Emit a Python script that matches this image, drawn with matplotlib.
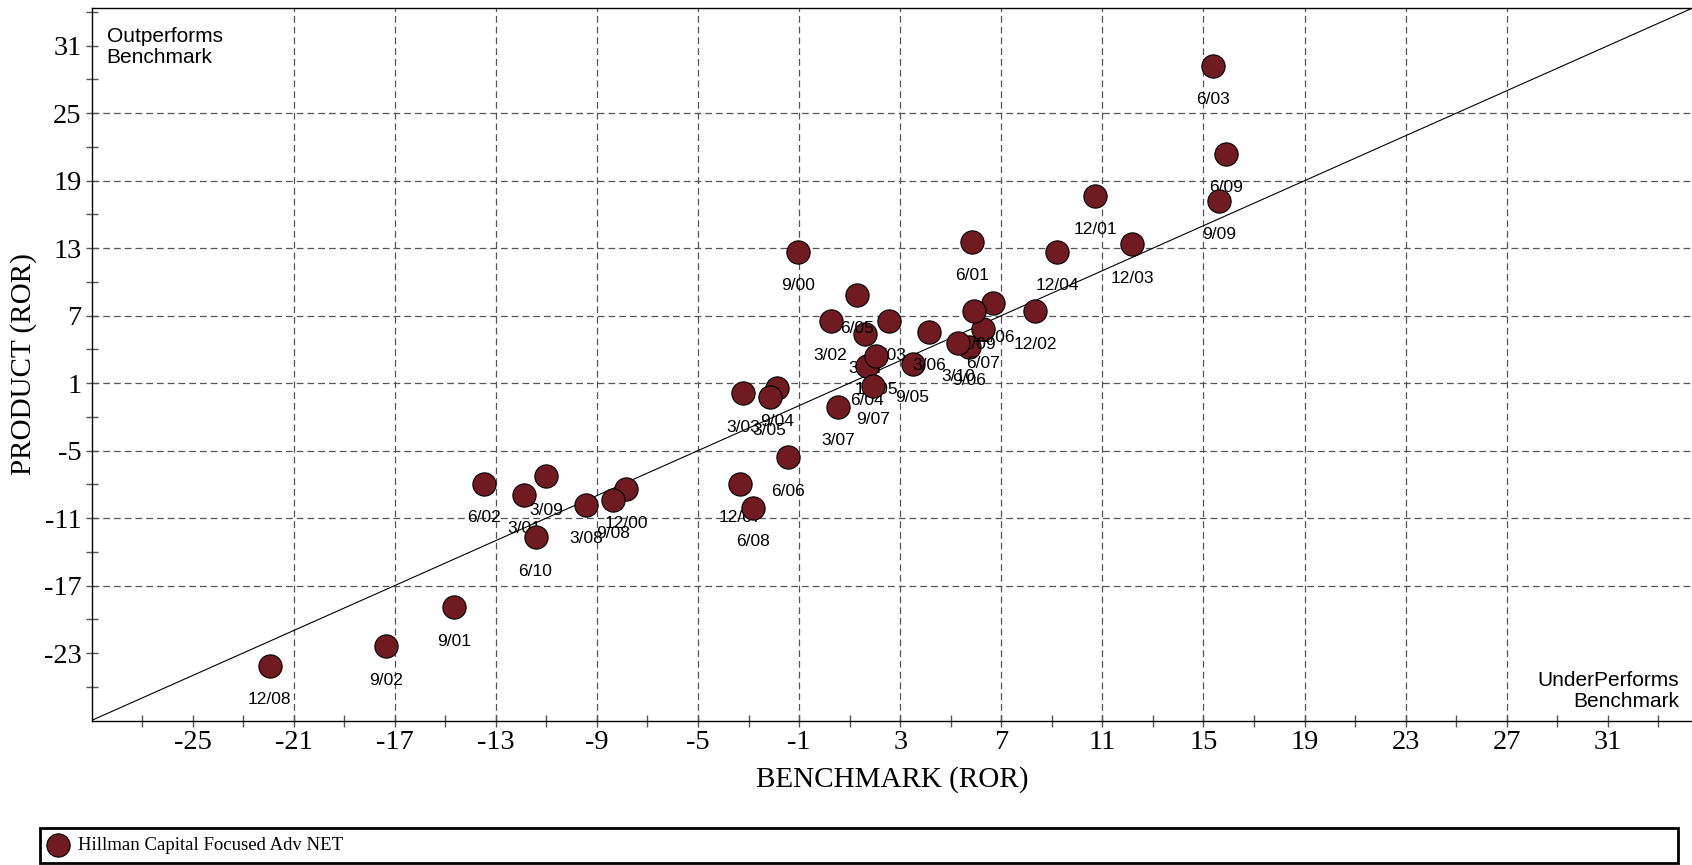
import matplotlib
matplotlib.use("Agg")
import matplotlib.pyplot as plt
import matplotlib.patches as mpatches
from matplotlib.font_manager import FontProperties
import numpy as np

plt.rcParams['axes.unicode_minus'] = False

# ---------------- data ----------------
labels = ['9/00', '12/00', '3/01', '6/01', '9/01', '12/01', '3/02', '6/02', '9/02', '12/02',
          '3/03', '6/03', '9/03', '12/03', '3/04', '6/04', '9/04', '12/04', '3/05', '6/05',
          '9/05', '12/05', '3/06', '6/06', '9/06', '12/06', '3/07', '6/07', '9/07', '12/07',
          '3/08', '6/08', '9/08', '12/08', '3/09', '6/09', '9/09', '12/09', '3/10', '6/10']
benchmark = [-1.03, -7.85, -11.87, 5.85, -14.65, 10.71, 0.25, -13.45, -17.33, 8.35,
             -3.23, 15.36, 2.56, 12.17, 1.61, 1.67, -1.86, 9.20, -2.17, 1.30,
             3.49, 2.04, 4.14, -1.45, 5.72, 6.67, 0.55, 6.26, 1.94, -3.33,
             -9.43, -2.81, -8.38, -21.95, -11.02, 15.90, 15.60, 5.93, 5.30, -11.43]
product = [12.70, -8.42, -8.93, 13.59, -18.94, 17.68, 6.51, -7.95, -22.39, 7.44,
           0.11, 29.23, 6.51, 13.35, 5.36, 2.48, 0.61, 12.70, -0.19, 8.85,
           2.72, 3.43, 5.56, -5.58, 4.25, 8.11, -1.08, 5.80, 0.76, -7.95,
           -9.82, -10.06, -9.37, -24.12, -7.30, 21.40, 17.20, 7.45, 4.61, -12.69]
series_name = 'Hillman Capital Focused Adv NET'

x_major = list(range(-25, 32, 4))
x_minor = list(range(-27, 34, 4))
y_major = list(range(-23, 32, 6))
y_minor = list(range(-26, 35, 6))
lim = (-29, 34.33)

point_color = '#701A22'
serif = 'Liberation Serif'
sans = 'Liberation Sans'

# ---------------- figure ----------------
W, H = 1692, 865
fig = plt.figure(figsize=(W / 100, H / 100), dpi=100)
left_px, right_px, top_px, bottom_px = 91.5, 1692, 8.3, 720.5
ax = fig.add_axes([left_px / W, (H - bottom_px) / H,
                   (right_px - left_px) / W, (bottom_px - top_px) / H])
ax.set_xlim(*lim)
ax.set_ylim(*lim)

# grid (interior major ticks only)
for v in x_major[1:-1]:
    ax.axvline(v, color='#555555', lw=0.9, ls=(0, (5.4, 3.2)), zorder=1)
for v in y_major[1:-1]:
    ax.axhline(v, color='#555555', lw=0.9, ls=(0, (5.4, 3.2)), zorder=1)

# diagonal reference
ax.axline((0, 0), slope=1, color='black', lw=0.8, zorder=2)

# points + labels in chronological order
handle = None
for i, (bx, py, lab) in enumerate(zip(benchmark, product, labels)):
    sc = ax.scatter([bx], [py], s=280, c=point_color, edgecolors='black',
                    linewidths=0.8, zorder=10 + 2 * i, clip_on=False)
    if handle is None:
        handle = sc
    ax.annotate(lab, (bx, py), xytext=(0, -34), textcoords='offset pixels',
                ha='center', va='center', fontsize=12.5, family=sans,
                zorder=11 + 2 * i)

# ticks
ax.set_xticks(x_major)
ax.set_xticks(x_minor, minor=True)
ax.set_yticks(y_major)
ax.set_yticks(y_minor, minor=True)
ax.tick_params(which='both', direction='inout', length=8.3, width=1.0,
               color='#555555', labelsize=20.5, pad=3)
for t in ax.get_xticklabels() + ax.get_yticklabels():
    t.set_fontfamily(serif)

for side in ['left', 'bottom', 'top']:
    ax.spines[side].set_color('black')
    ax.spines[side].set_linewidth(1.0)
ax.spines['right'].set_visible(False)

# axis labels
ax.set_xlabel('BENCHMARK (ROR)', fontsize=21, family=serif)
ax.xaxis.label.set_va('center')
ax.xaxis.set_label_coords(0.5, (bottom_px - 780) / (bottom_px - top_px))
ax.set_ylabel('PRODUCT (ROR)', fontsize=21, family=serif)
ax.yaxis.label.set_va('center')
ax.yaxis.label.set_ha('center')
ax.yaxis.set_label_coords((24 - left_px) / (right_px - left_px), 0.5)

# quadrant notes
fig.text(106.5 / W, 1 - 27 / H, 'Outperforms\nBenchmark', ha='left', va='top',
         fontsize=15, family=sans, linespacing=1.15)
fig.text(1679 / W, 1 - 711 / H, 'UnderPerforms\nBenchmark', ha='right', va='bottom',
         fontsize=15, family=sans, linespacing=1.15, multialignment='right')

# legend box
fig.add_artist(mpatches.Rectangle((40 / W, (H - 863.3) / H), (1678 - 40) / W, 35.6 / H,
                                  transform=fig.transFigure, fill=False,
                                  edgecolor='black', lw=2.0))
fig.legend(handles=[handle], labels=[series_name], loc='center left',
           bbox_to_anchor=(48.6 / W, (H - 845.5) / H), frameon=False,
           prop=FontProperties(family=serif, size=13.5), handlelength=1.0,
           handletextpad=0.57, borderpad=0, borderaxespad=0, scatterpoints=1)

fig.savefig('out.png', dpi=100)
